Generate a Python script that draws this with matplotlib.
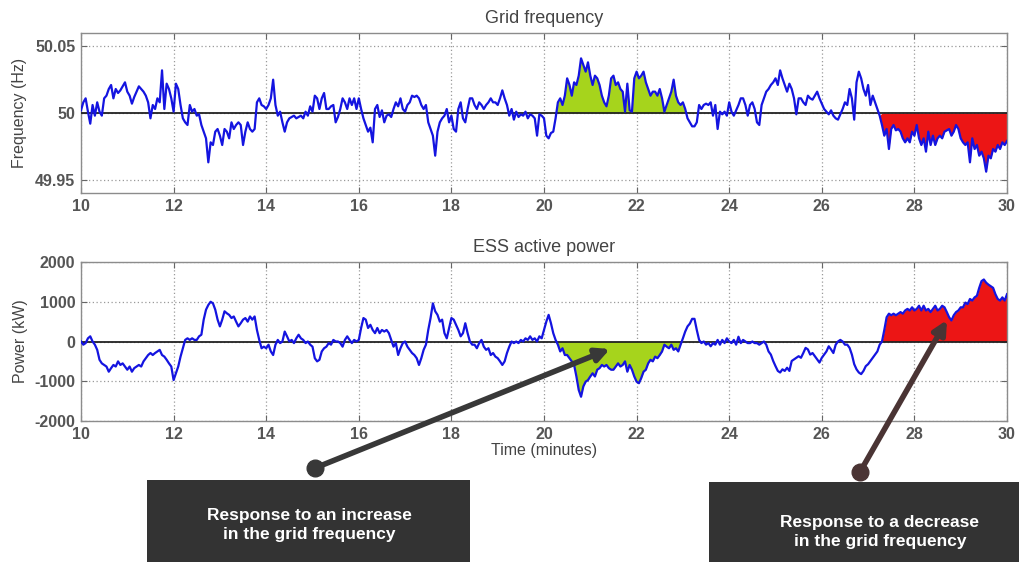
import matplotlib
matplotlib.use("Agg")
import matplotlib.pyplot as plt
from matplotlib.patches import FancyArrowPatch, Rectangle
from matplotlib.lines import Line2D
import numpy as np

# ── data (0.05 min steps from 10 to 30 min) ──
t_start, t_end = 10, 30

# grid frequency deviation from 50 Hz, in mHz
freq_dev_mhz = [
    2, 8, 11, 1, -8, 6, -2, 8, 1, -2, 11, 13, 18, 21, 11, 18, 15, 17, 20, 23,
    16, 13, 7, 12, 16, 20, 18, 16, 13, 8, -4, 6, 3, 11, 8, 32, 3, 22, 18, 11,
    1, 22, 18, 6, -4, -7, -9, 6, 1, 3, -2, -1, -9, -14, -19, -37, -22, -24, -14, -12,
    -17, -24, -12, -14, -19, -7, -12, -9, -7, -9, -24, -14, -7, -12, -14, -12, 8, 11, 6, 5,
    3, 6, 11, 25, 6, -2, 1, -7, -14, -7, -4, -3, -2, -4, -3, -2, -4, 1, -2, 5,
    1, 13, 11, 3, 11, 15, 3, 3, 5, 6, -7, -3, 3, 11, 8, 3, 11, 6, 11, 3,
    11, 3, -4, -9, -14, -11, -22, 3, 6, -3, 2, -7, -2, -1, -3, 3, 8, 5, 11, 3,
    1, 6, 8, 13, 12, 13, 11, 6, 3, 6, -7, -12, -17, -32, -14, -7, -4, -2, 3, -7,
    -2, -12, -14, 3, 8, -4, -7, 3, 11, 11, 6, 3, 8, 6, 3, 6, 8, 11, 8, 8,
    6, 11, 17, 11, 6, -2, 3, -5, 1, -3, -1, -2, 1, -4, -1, -2, -4, -17, -1, -2,
    -4, -17, -19, -15, -14, -4, 8, 11, 6, 13, 26, 21, 13, 23, 21, 28, 41, 36, 31, 38,
    28, 21, 28, 26, 21, 13, 8, 5, 13, 26, 28, 21, 23, 18, 16, 1, 22, 2, 1, 26,
    31, 26, 28, 31, 23, 18, 13, 16, 16, 13, 18, 11, 1, 6, 11, 16, 25, 13, 8, 6,
    8,
    3, -4, -7, -10, -10, -7, 6, 3, 6, 7, 6, 8, -2, 6, -12, 1, -1,
    1, -2, 8, 1, -2, 2, 6, 11, 11, 6, -2, 6, 8, 3, -7, -9, 6, 11, 16, 18,
    21, 23, 26, 21, 32, 26, 21, 16, 22, 18, 11, -1, 11, 11, 8, 6, 13, 11, 10, 13,
    16, 11, 7, 3, 1, -1, 2, -2, -4, -5, -1, 3, 8, 6, 18, 11, -5, 23, 31, 26,
    18, 13, 21, 6, 13, 8, 3, -2, -9, -17, -12, -27, -12, -9, -13, -12, -14, -19, -22, -19,
    -22, -14, -17, -9, -19, -24, -19, -29, -14, -24, -17, -24, -19, -17, -19, -14, -13, -12, -17, -14,
    -9, -12, -19, -22, -24, -22, -37, -19, -27, -24, -32, -29, -34, -44, -32, -34, -27, -29, -24, -27,
    -22, -24, -21,
]

# ESS active power, in kW
power_kw = [
    0, -80, -40, 80, 130, 0, -80, -210, -460, -550, -590, -630, -760, -670, -590, -630, -500, -590, -550, -630,
    -710, -630, -760, -670, -630, -590, -630, -500, -420, -340, -290, -340, -290, -250, -210, -340, -380, -460, -550, -630,
    -970, -800, -630, -380, -170, 40, 80, 40, 80, 40, 40, 130, 170, 550, 800, 920, 1000, 960, 800, 550,
    380, 550, 760, 710, 670, 590, 630, 500, 380, 460, 550, 590, 500, 630, 550, 630, 290, 40, -170, -130,
    -170, -80, -250, -340, -80, 40, -40, 0, 250, 130, 0, 40, -40, 80, 170, 80, 40, -40, 0, -80,
    -130, -420, -500, -460, -250, -170, -130, -40, -80, 40, 0, 0, -40, -130, 40, 130, 40, -40, 40, 0,
    40, 340, 590, 550, 340, 420, 290, 210, 340, 210, 290, 250, 290, 210, 40, -130, -40, -340, -170, -40,
    0, -130, -210, -290, -340, -420, -590, -420, -210, -80, 290, 590, 960, 760, 670, 500, 550, 210, 80, 340,
    590, 550, 420, 290, 130, 210, 460, 210, 0, -80, -80, -170, -40, 40, -130, -210, -170, -340, -290, -380,
    -420, -500, -590, -500, -290, -130, 0, -40, 0, -40, 40, 0, 80, 40, 130, 40, 80, 0, 130, 80,
    290, 500, 670, 460, 210, 40, -80, -250, -170, -340, -340, -420, -500, -590, -880, -1220, -1390, -1130, -1010, -970,
    -880, -800, -880, -710, -670, -590, -630, -590, -670, -710, -710, -630, -550, -630, -590, -500, -760, -590, -710, -880,
    -1010, -1050, -920, -760, -710, -550, -460, -500, -380, -420, -340, -250, -80, -130, -170, -80, -210, -170, -250, -80,
    80, 250, 380,
    450, 570, 570, 290, 40, -40, 0, -80, -40, -120, -40, -80, 40, -80, 40, -40, 80,
    0, -40, 40, -80, 120, -40, 40, 0, -40, -40, 0, -40, -40, -80, -40, 0, -80, -250, -330, -490,
    -620, -740, -780, -700, -740, -660, -740, -490, -450, -410, -370, -410, -290, -160, -200, -330, -290, -370, -450, -530,
    -410, -330, -250, -120, -200, -290, -80, 0, 40, 0, -80, -80, -160, -330, -570, -700, -780, -820, -740, -620,
    -570, -490, -410, -330, -250, -80, 0, 290, 610, 700, 660, 700, 660, 700, 740, 700, 780, 820, 780, 860,
    780, 820, 900, 780, 900, 780, 820, 740, 820, 900, 780, 820, 900, 860, 740, 610, 530, 660, 740, 780,
    860, 860, 980, 940, 1070, 1030, 1110, 1150, 1350, 1520, 1560, 1480, 1430, 1390, 1350, 1190, 1070, 1030, 1110, 1030,
    1190,
]

# event windows (minutes)
rise_window = (20.3, 23.05)
drop_window = (27.3, 30.0)

x_ticks = [10, 12, 14, 16, 18, 20, 22, 24, 26, 28, 30]
f_ticks = [49.95, 50, 50.05]
f_ticklabels = ["49.95", "50", "50.05"]
p_ticks = [-2000, -1000, 0, 1000, 2000]

# ── style ──
FONT = "Liberation Sans"
BLUE = "#1414e0"
GREEN = "#a6d41c"
RED = "#ec1515"
GRID = "#9a9a9a"
SPINE = "#8c8c8c"
TXT = "#444444"
TICK_TXT = "#555555"
BOX = "#333333"

W, H = 1019, 562
plt.rcParams["font.family"] = [FONT, "DejaVu Sans"]
plt.rcParams["axes.unicode_minus"] = False

t = np.linspace(t_start, t_end, len(freq_dev_mhz))
freq = 50 + np.array(freq_dev_mhz) / 1000.0
tp = np.linspace(t_start, t_end, len(power_kw))
power = np.array(power_kw, dtype=float)

fig = plt.figure(figsize=(W / 100, H / 100), dpi=100)
fig.patch.set_facecolor("white")


def px(x, y):
    # image pixel (top-left origin) -> figure fraction
    return x / W, 1 - y / H


ax_f = fig.add_axes([81 / W, 1 - 193 / H, 926 / W, 160 / H])
ax_p = fig.add_axes([81 / W, 1 - 421 / H, 926 / W, 159 / H])


def style_axes(ax):
    ax.set_xlim(t_start, t_end)
    ax.set_xticks(x_ticks)
    ax.grid(True, color=GRID, linestyle=(0, (1, 2)), linewidth=0.9)
    ax.tick_params(direction="in", length=4, color="#666666", top=True, right=True,
                   labelsize=11.5, labelcolor=TICK_TXT, pad=4)
    for lab in ax.get_xticklabels() + ax.get_yticklabels():
        lab.set_fontweight("bold")
    for sp in ax.spines.values():
        sp.set_edgecolor(SPINE)
        sp.set_linewidth(1.0)


# ── grid frequency ──
in_rise = (t >= rise_window[0]) & (t <= rise_window[1])
in_drop = (t >= drop_window[0]) & (t <= drop_window[1])
ax_f.fill_between(t, freq, 50, where=in_rise & (freq >= 50), interpolate=True,
                  color=GREEN, linewidth=0, zorder=2)
ax_f.fill_between(t, freq, 50, where=in_drop & (freq <= 50), interpolate=True,
                  color=RED, linewidth=0, zorder=2)
ax_f.axhline(50, color="#222222", linewidth=1.3, zorder=3)
ax_f.plot(t, freq, color=BLUE, linewidth=1.6, zorder=4)
ax_f.set_ylim(49.94, 50.06)
ax_f.set_yticks(f_ticks)
ax_f.set_yticklabels(f_ticklabels)
style_axes(ax_f)
ax_f.set_title("Grid frequency", fontsize=13, color=TXT, pad=7)
ax_f.set_ylabel("Frequency (Hz)", fontsize=11.5, color=TXT, labelpad=6)

# ── ESS active power ──
in_rise_p = (tp >= rise_window[0]) & (tp <= rise_window[1])
in_drop_p = (tp >= drop_window[0]) & (tp <= drop_window[1])
ax_p.fill_between(tp, power, 0, where=in_rise_p & (power <= 0), interpolate=True,
                  color=GREEN, linewidth=0, zorder=2)
ax_p.fill_between(tp, power, 0, where=in_drop_p & (power >= 0), interpolate=True,
                  color=RED, linewidth=0, zorder=2)
ax_p.axhline(0, color="#222222", linewidth=1.3, zorder=3)
ax_p.plot(tp, power, color=BLUE, linewidth=1.6, zorder=4)
ax_p.set_ylim(-2000, 2000)
ax_p.set_yticks(p_ticks)
style_axes(ax_p)
ax_p.set_title("ESS active power", fontsize=13, color=TXT, pad=7)
ax_p.set_ylabel("Power (kW)", fontsize=11.5, color=TXT, labelpad=5)
ax_p.set_xlabel("Time (minutes)", fontsize=11.5, color=TXT, labelpad=1)

# ── callout boxes ──
boxes = [
    ((147, 480, 470, 562), (309, 525), "Response to an increase\nin the grid frequency"),
    ((709, 482, 1019, 562), (880, 532), "Response to a decrease\nin the grid frequency"),
]
for (x0, y0, x1, y1), (tx, ty), label in boxes:
    fx0, fy1 = px(x0, y0)
    fx1, fy0 = px(x1, y1)
    fig.add_artist(Rectangle((fx0, fy0), fx1 - fx0, fy1 - fy0, transform=fig.transFigure,
                             facecolor=BOX, edgecolor="none", zorder=5))
    fig.text(*px(tx, ty), label, ha="center", va="center", color="white",
             fontsize=12.5, fontweight="bold", linespacing=1.3, zorder=6)

# ── arrows ──
arrows = [
    ((315, 468), (610, 349), "#383838"),
    ((860, 472), (947, 320), "#4a3434"),
]
for start, end, col in arrows:
    fig.add_artist(FancyArrowPatch(px(*start), px(*end), transform=fig.transFigure,
                                   arrowstyle="-|>", mutation_scale=20, linewidth=4,
                                   color=col, shrinkA=0, shrinkB=0, zorder=7))
    sx, sy = px(*start)
    fig.add_artist(Line2D([sx], [sy], marker="o", markersize=12, color=col,
                          transform=fig.transFigure, zorder=8))

fig.savefig("out.png", dpi=100, facecolor="white")
